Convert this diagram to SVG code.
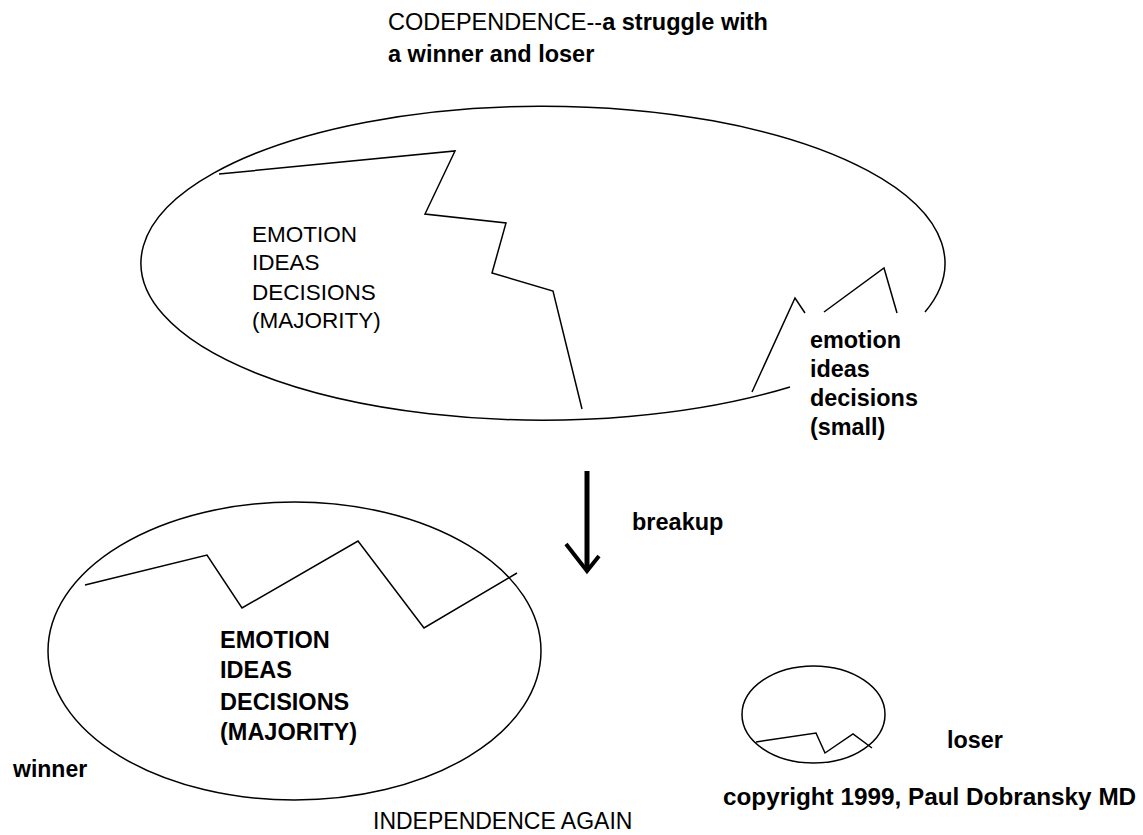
<svg xmlns="http://www.w3.org/2000/svg" width="1143" height="835" viewBox="0 0 1143 835">
<style>
text{font-family:"Liberation Sans",Arial,sans-serif;fill:#000}
.b{font-weight:bold}
.r{font-weight:normal}
.ln{fill:none;stroke:#000;stroke-width:1.5;stroke-linejoin:miter}
</style>
<rect width="1143" height="835" fill="#fff"/>
<g id="title">
<text x="388" y="30" font-size="23.5"><tspan class="r">CODEPENDENCE--</tspan><tspan class="b">a struggle with</tspan></text>
<text x="388" y="62" font-size="23.5" class="b">a winner and loser</text>
</g>
<g id="codependence">
<path class="ln" d="M925,312 A402,157 0 1 0 790,387"/>
<polyline class="ln" points="219,174 455,151 425,214 506,223 492,273 553,291 582,409"/>
<polyline class="ln" points="752,392 795,298 805,313"/>
<polyline class="ln" points="824,312 884,268 897,313"/>
<text font-size="22.5" class="r"><tspan x="252" y="242">EMOTION</tspan><tspan x="252" y="270">IDEAS</tspan><tspan x="252" y="300">DECISIONS</tspan><tspan x="252" y="328">(MAJORITY)</tspan></text>
<text font-size="23.4" class="b"><tspan x="810" y="348">emotion</tspan><tspan x="810" y="377">ideas</tspan><tspan x="810" y="406">decisions</tspan><tspan x="810" y="435">(small)</tspan></text>
</g>
<g id="connectors">
<path d="M587,471 L587,570" fill="none" stroke="#000" stroke-width="5"/>
<path d="M566,544 L587,571 L599,556" fill="none" stroke="#000" stroke-width="4"/>
<text x="632" y="530" font-size="23.5" class="b">breakup</text>
</g>
<g id="winner">
<ellipse class="ln" cx="294.5" cy="651" rx="246.5" ry="149"/>
<polyline class="ln" points="85,585 207,555 242,608 358,541 424,628 517,573"/>
<text font-size="23.5" class="b"><tspan x="220" y="648">EMOTION</tspan><tspan x="220" y="678">IDEAS</tspan><tspan x="220" y="710">DECISIONS</tspan><tspan x="220" y="740">(MAJORITY)</tspan></text>
<text x="13" y="777" font-size="23" class="b">winner</text>
<text x="373" y="829" font-size="23" class="r">INDEPENDENCE AGAIN</text>
</g>
<g id="loser">
<ellipse class="ln" cx="813.5" cy="714.5" rx="71.5" ry="48.5"/>
<polyline class="ln" points="756,742 816,733 825,753 853,734 872,748"/>
<text x="947" y="748" font-size="23.4" class="b">loser</text>
<text x="723" y="805" font-size="24.3" class="b">copyright 1999, Paul Dobransky MD</text>
</g>
</svg>
